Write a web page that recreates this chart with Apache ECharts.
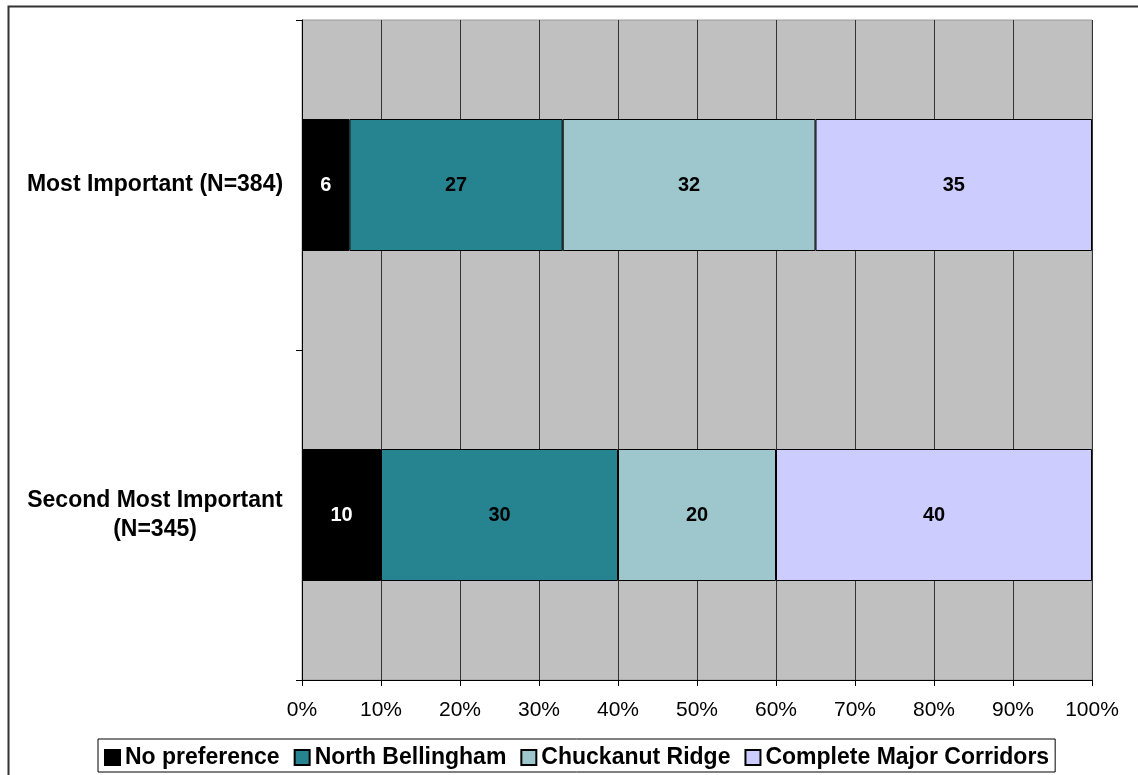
<!DOCTYPE html>
<html>
<head>
<meta charset="utf-8">
<script src="https://cdn.jsdelivr.net/npm/echarts@6/dist/echarts.min.js"></script>
<style>
html,body{margin:0;padding:0;background:#fff;}
#chart{width:1138px;height:775px;}
</style>
</head>
<body>
<div id="chart"></div>
<script>
var categories = ['Most Important (N=384)', 'Second Most Important\n(N=345)'];
var seriesNames = ['No preference', 'North Bellingham', 'Chuckanut Ridge', 'Complete Major Corridors'];
var noPreference = [6, 10];
var northBellingham = [27, 30];
var chuckanutRidge = [32, 20];
var completeMajorCorridors = [35, 40];
var colors = ['#000000', '#268490', '#9DC7CC', '#CCCCFF'];
var labelColors = ['#ffffff', '#000000', '#000000', '#000000'];
var values = [noPreference, northBellingham, chuckanutRidge, completeMajorCorridors];

var chart = echarts.init(document.getElementById('chart'));
var series = seriesNames.map(function (name, i) {
  return {
    name: name,
    type: 'bar',
    stack: 'total',
    barCategoryGap: '60%',
    data: values[i],
    itemStyle: { color: colors[i], borderColor: '#000', borderWidth: 1 },
    label: {
      show: true,
      position: 'inside',
      color: labelColors[i],
      fontFamily: 'Liberation Sans, Arial, sans-serif',
      fontWeight: 'bold',
      fontSize: 20
    },
    emphasis: { disabled: true }
  };
});

chart.setOption({
  animation: false,
  backgroundColor: '#ffffff',
  graphic: [{
    type: 'rect',
    shape: { x: 8.5, y: 6.5, width: 1200, height: 1000 },
    style: { fill: 'none', stroke: '#333', lineWidth: 2 },
    silent: true
  }],
  grid: {
    left: 302, right: 46, top: 20, bottom: 95,
    show: true,
    backgroundColor: '#C0C0C0',
    borderColor: '#9a9a9a',
    borderWidth: 1
  },
  legend: {
    data: seriesNames,
    top: 739,
    left: 98,
    icon: 'rect',
    itemWidth: 15,
    itemHeight: 15,
    itemGap: 14,
    padding: [5, 6, 1, 6],
    borderColor: '#000',
    borderWidth: 1,
    backgroundColor: '#fff',
    textStyle: {
      fontFamily: 'Liberation Sans, Arial, sans-serif',
      fontWeight: 'bold',
      fontSize: 23,
      lineHeight: 27,
      color: '#000'
    }
  },
  xAxis: {
    type: 'value',
    min: 0,
    max: 100,
    interval: 10,
    axisLine: { show: true, lineStyle: { color: '#000', width: 1 } },
    axisTick: { show: true, length: 6, lineStyle: { color: '#000' } },
    splitLine: { show: true, lineStyle: { color: '#333', width: 1 } },
    axisLabel: {
      formatter: '{value}%',
      fontFamily: 'Liberation Sans, Arial, sans-serif',
      fontSize: 21,
      color: '#000',
      margin: 20
    }
  },
  yAxis: {
    type: 'category',
    data: categories,
    inverse: true,
    axisLine: { show: true, lineStyle: { color: '#000', width: 1 } },
    axisTick: { show: true, length: 6, lineStyle: { color: '#000' } },
    splitLine: { show: false },
    axisLabel: {
      margin: 17,
      formatter: function (v) {
        return v.split('\n').map(function (s) { return '{a|' + s + '}'; }).join('\n');
      },
      rich: {
        a: {
          width: 260,
          align: 'center',
          fontFamily: 'Liberation Sans, Arial, sans-serif',
          fontWeight: 'bold',
          fontSize: 23,
          lineHeight: 29,
          color: '#000'
        }
      }
    }
  },
  series: series
});
</script>
</body>
</html>
